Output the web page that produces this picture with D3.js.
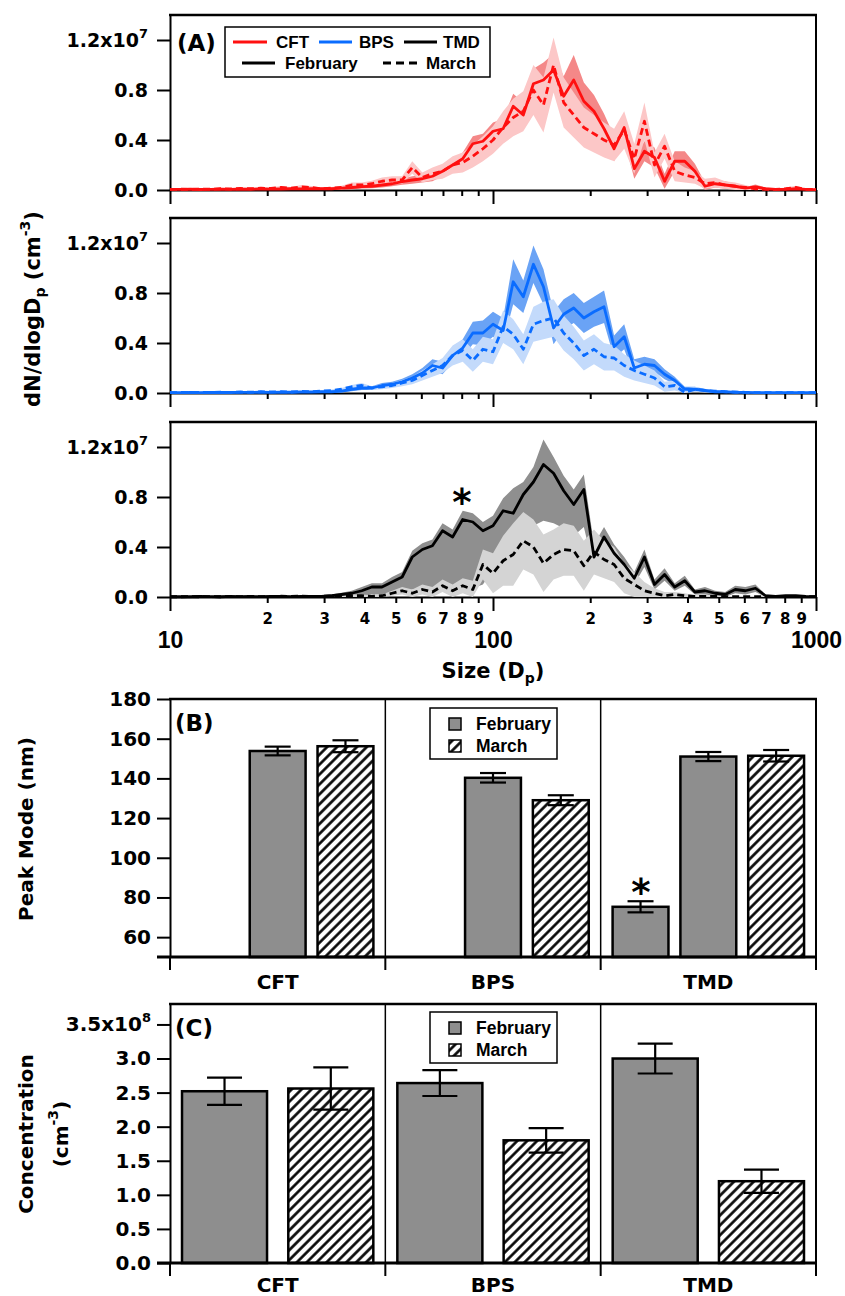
<!DOCTYPE html>
<html>
<head>
<meta charset="utf-8">
<script src="https://cdn.jsdelivr.net/npm/d3@7"></script>
<style>
  body { margin: 0; background: #fff; }
  svg { display: block; }
</style>
</head>
<body>
<script>
// ---------- data ----------
// particle size bins (nm)
const diam = [10.0, 10.75, 11.55, 12.41, 13.34, 14.33, 15.40, 16.55, 17.78, 19.11, 20.54, 22.07, 23.71, 25.48, 27.38,
  29.43, 31.62, 33.98, 36.52, 39.24, 42.17, 45.32, 48.70, 52.33, 56.23, 60.43, 64.94, 69.78, 74.99, 80.58,
  86.60, 93.06, 100.0, 107.5, 115.5, 124.1, 133.4, 143.3, 154.0, 165.5, 177.8, 191.1, 205.4, 220.7, 237.1,
  254.8, 273.8, 294.3, 316.2, 339.8, 365.2, 392.4, 421.7, 453.2, 487.0,
  523.3, 562.3, 604.3, 649.4, 697.8, 749.9, 805.8, 866.0, 930.6, 1000];

// dN/dlogDp in units of 10^6 cm-3
const cftFeb = [0.05, 0.05, 0.06, 0.04, 0.05, 0.06, 0.05, 0.07, 0.06, 0.08, 0.07, 0.08, 0.10, 0.09, 0.10,
  0.10, 0.10, 0.15, 0.20, 0.27, 0.30, 0.40, 0.50, 0.67, 0.80, 0.90, 1.10, 1.50, 2.00, 2.50,
  3.70, 3.90, 4.70, 4.90, 6.70, 6.00, 8.50, 8.80, 9.60, 7.50, 8.80, 7.10, 6.30, 4.90, 3.30,
  5.00, 1.70, 3.10, 2.60, 0.70, 2.30, 2.30, 1.50, 0.30, 0.50,
  0.40, 0.30, 0.15, 0.25, 0.10, 0.05, 0.05, 0.10, 0.05, 0.03];
const cftFebErr = [0.04, 0.04, 0.04, 0.04, 0.04, 0.05, 0.05, 0.05, 0.05, 0.05, 0.05, 0.05, 0.06, 0.06, 0.06,
  0.10, 0.10, 0.10, 0.15, 0.15, 0.15, 0.20, 0.20, 0.25, 0.30, 0.30, 0.40, 0.40, 0.50, 0.50,
  0.60, 0.60, 0.70, 0.80, 1.00, 1.00, 1.20, 1.40, 1.30, 1.60, 2.00, 1.50, 1.30, 1.20, 1.00,
  1.00, 0.80, 0.80, 0.80, 0.60, 0.80, 0.80, 0.60, 0.30, 0.30,
  0.30, 0.20, 0.10, 0.20, 0.10, 0.05, 0.05, 0.10, 0.05, 0.05];
const cftMar = [0.05, 0.06, 0.05, 0.08, 0.06, 0.10, 0.08, 0.12, 0.10, 0.15, 0.12, 0.20, 0.15, 0.25, 0.20,
  0.10, 0.15, 0.20, 0.40, 0.40, 0.50, 0.70, 0.80, 0.80, 1.80, 1.00, 1.30, 1.50, 2.00, 2.20,
  2.70, 3.30, 4.00, 5.00, 5.80, 6.30, 8.00, 6.80, 10.0, 7.00, 6.00, 5.00, 4.50, 4.00, 3.60,
  4.80, 2.50, 5.50, 2.00, 3.50, 1.50, 1.20, 1.00, 0.50, 0.60,
  0.40, 0.30, 0.20, 0.10, 0.05, 0.05, 0.10, 0.20, 0.05, 0.05];
const cftMarErr = [0.05, 0.05, 0.05, 0.08, 0.05, 0.08, 0.08, 0.10, 0.08, 0.10, 0.10, 0.12, 0.10, 0.15, 0.12,
  0.10, 0.10, 0.15, 0.20, 0.20, 0.25, 0.30, 0.30, 0.30, 0.50, 0.40, 0.50, 0.60, 0.70, 0.80,
  0.90, 1.00, 1.10, 1.30, 1.50, 1.60, 2.00, 2.20, 2.20, 2.00, 1.80, 1.60, 1.50, 1.40, 1.30,
  1.50, 1.20, 1.50, 1.00, 1.00, 0.80, 0.60, 0.50, 0.40, 0.40,
  0.30, 0.30, 0.20, 0.10, 0.05, 0.05, 0.10, 0.15, 0.05, 0.05];

const bpsFeb = [0.03, 0.03, 0.04, 0.03, 0.04, 0.05, 0.04, 0.05, 0.05, 0.06, 0.05, 0.07, 0.06, 0.08, 0.08,
  0.10, 0.10, 0.15, 0.30, 0.40, 0.40, 0.60, 0.70, 0.90, 1.20, 1.60, 2.20, 2.00, 3.00, 3.60,
  4.80, 4.80, 5.50, 5.00, 8.90, 7.70, 10.3, 8.50, 5.20, 6.30, 6.80, 6.00, 6.50, 6.90, 3.70,
  4.50, 2.00, 2.30, 2.20, 1.50, 1.00, 0.30, 0.30, 0.20, 0.10,
  0.10, 0.05, 0.05, 0.03, 0.03, 0.03, 0.03, 0.03, 0.03, 0.03];
const bpsFebErr = [0.03, 0.03, 0.03, 0.03, 0.03, 0.03, 0.03, 0.03, 0.03, 0.03, 0.03, 0.03, 0.03, 0.03, 0.03,
  0.05, 0.05, 0.10, 0.15, 0.15, 0.15, 0.20, 0.20, 0.25, 0.30, 0.40, 0.50, 0.50, 0.60, 0.70,
  0.90, 1.00, 1.00, 1.00, 1.80, 1.30, 1.50, 1.40, 1.30, 1.20, 1.20, 1.20, 1.20, 1.30, 0.90,
  1.00, 0.70, 0.60, 0.50, 0.40, 0.30, 0.20, 0.20, 0.10, 0.10,
  0.05, 0.05, 0.05, 0.05, 0.05, 0.05, 0.05, 0.05, 0.05, 0.05];
const bpsMar = [0.03, 0.04, 0.03, 0.05, 0.04, 0.06, 0.05, 0.08, 0.06, 0.10, 0.08, 0.10, 0.08, 0.12, 0.10,
  0.15, 0.20, 0.30, 0.50, 0.60, 0.40, 0.50, 0.60, 0.80, 1.00, 1.40, 1.80, 2.20, 3.00, 3.40,
  2.60, 3.50, 3.30, 5.30, 4.70, 3.50, 5.50, 5.80, 6.00, 4.80, 4.00, 3.00, 3.50, 2.90, 2.80,
  2.20, 1.80, 1.50, 1.20, 0.50, 0.60, 0.05, 0.30, 0.20, 0.15,
  0.10, 0.08, 0.05, 0.03, 0.03, 0.03, 0.03, 0.03, 0.03, 0.03];
const bpsMarErr = [0.03, 0.03, 0.03, 0.03, 0.03, 0.03, 0.03, 0.03, 0.03, 0.03, 0.03, 0.03, 0.03, 0.03, 0.03,
  0.05, 0.08, 0.10, 0.15, 0.20, 0.15, 0.20, 0.20, 0.25, 0.30, 0.40, 0.50, 0.60, 0.80, 0.90,
  0.90, 1.00, 1.00, 1.30, 1.20, 1.20, 1.40, 1.50, 1.50, 1.40, 1.30, 1.20, 1.20, 1.10, 1.00,
  0.90, 0.80, 0.70, 0.60, 0.40, 0.40, 0.30, 0.20, 0.15, 0.10,
  0.05, 0.05, 0.05, 0.05, 0.05, 0.05, 0.05, 0.05, 0.05, 0.05];

const tmdFeb = [0.02, 0.03, 0.02, 0.04, 0.03, 0.02, 0.05, 0.03, 0.04, 0.03, 0.05, 0.04, 0.03, 0.05, 0.05,
  0.05, 0.10, 0.20, 0.30, 0.50, 0.80, 0.80, 1.20, 1.60, 3.20, 3.80, 4.10, 5.30, 4.80, 6.20,
  6.00, 5.30, 5.70, 6.90, 6.70, 8.20, 9.20, 10.6, 9.90, 8.50, 7.40, 8.60, 3.20, 4.80, 3.50,
  2.60, 1.50, 3.20, 1.00, 1.80, 0.80, 1.30, 0.40, 0.50, 0.30,
  0.20, 0.60, 0.50, 0.70, 0.10, 0.05, 0.10, 0.10, 0.05, 0.03];
const tmdFebErrHi = [0.03, 0.03, 0.03, 0.03, 0.03, 0.03, 0.03, 0.03, 0.03, 0.03, 0.03, 0.03, 0.03, 0.03, 0.03,
  0.05, 0.10, 0.15, 0.20, 0.30, 0.30, 0.30, 0.40, 0.40, 0.50, 0.50, 0.50, 0.60, 0.60, 0.70,
  0.70, 0.70, 0.80, 1.00, 2.00, 1.00, 1.20, 2.00, 1.30, 1.20, 1.20, 1.20, 1.00, 0.80, 0.70,
  0.60, 0.50, 0.60, 0.40, 0.50, 0.30, 0.40, 0.20, 0.30, 0.20,
  0.20, 0.30, 0.30, 0.30, 0.10, 0.05, 0.05, 0.05, 0.05, 0.03];
const tmdFebErrLo = [0.03, 0.03, 0.03, 0.03, 0.03, 0.03, 0.03, 0.03, 0.03, 0.03, 0.03, 0.03, 0.03, 0.03, 0.03,
  0.05, 0.10, 0.15, 0.20, 0.40, 0.60, 0.60, 1.00, 1.30, 2.60, 3.10, 3.40, 4.50, 4.10, 5.40,
  5.30, 4.30, 3.50, 3.00, 2.30, 3.00, 3.50, 4.50, 4.00, 3.00, 2.50, 3.00, 1.00, 1.50, 1.00,
  0.80, 0.50, 0.80, 0.40, 0.50, 0.30, 0.40, 0.20, 0.30, 0.20,
  0.20, 0.30, 0.30, 0.30, 0.10, 0.05, 0.05, 0.05, 0.05, 0.03];
const tmdMar = [0.02, 0.02, 0.03, 0.02, 0.03, 0.02, 0.04, 0.03, 0.05, 0.03, 0.04, 0.06, 0.05, 0.08, 0.05,
  0.05, 0.10, 0.10, 0.10, 0.10, 0.05, 0.10, 0.30, 0.50, 0.30, 0.60, 0.40, 0.90, 0.50, 0.90,
  0.60, 2.60, 1.90, 2.90, 3.40, 4.50, 4.00, 2.70, 3.40, 3.80, 3.70, 2.50, 3.60, 3.00, 2.60,
  1.50, 1.00, 0.50, 0.30, 0.10, 0.20, 0.10, 0.05, 0.05, 0.05,
  0.03, 0.03, 0.03, 0.03, 0.03, 0.03, 0.03, 0.03, 0.03, 0.03];
const tmdMarErr = [0.03, 0.03, 0.03, 0.03, 0.03, 0.03, 0.03, 0.03, 0.03, 0.03, 0.03, 0.03, 0.03, 0.03, 0.03,
  0.05, 0.05, 0.10, 0.10, 0.10, 0.10, 0.10, 0.20, 0.30, 0.30, 0.40, 0.40, 0.50, 0.50, 0.60,
  0.70, 1.20, 1.60, 2.00, 2.50, 2.30, 2.20, 2.30, 2.00, 2.10, 2.00, 2.00, 1.80, 1.50, 1.40,
  1.20, 1.00, 0.70, 0.40, 0.30, 0.20, 0.20, 0.10, 0.10, 0.10,
  0.05, 0.05, 0.05, 0.05, 0.05, 0.05, 0.05, 0.05, 0.05, 0.05];

const yTicksA = [0, 4, 8, 12];
const xTicksA = [10, 20, 30, 40, 50, 60, 70, 80, 90, 100, 200, 300, 400, 500, 600, 700, 800, 900, 1000];
const xMajors = [10, 100, 1000];

// panels B and C
const sites = ['CFT', 'BPS', 'TMD'];
const peakFeb = [153.8, 140.3, 151.0];
const peakFebErr = [2.2, 2.4, 2.3];
const peakMar = [156.2, 129.0, 151.4];
const peakMarErr = [3.0, 2.5, 2.9];
const peakFebSmall = [null, null, 75.3];      // second (smaller) February mode
const peakFebSmallErr = [null, null, 2.8];
const peakTicks = [60, 80, 100, 120, 140, 160, 180];

const concFeb = [2.52e8, 2.64e8, 3.00e8];
const concFebErr = [0.20e8, 0.19e8, 0.22e8];
const concMar = [2.56e8, 1.80e8, 1.20e8];
const concMarErr = [0.31e8, 0.18e8, 0.17e8];
const concTicks = [0, 0.5e8, 1.0e8, 1.5e8, 2.0e8, 2.5e8, 3.0e8, 3.5e8];

// ---------- canvas ----------
const arial = '"Liberation Sans", Arial, sans-serif';
const svg = d3.select('body').append('svg')
  .attr('width', 845)
  .attr('height', 1296)
  .attr('font-family', '"DejaVu Sans", sans-serif')
  .attr('font-weight', 'bold');

const left = 170, right = 816;
const x = d3.scaleLog().domain([10, 1000]).range([left, right]);

const defs = svg.append('defs');
const hatch = defs.append('pattern')
  .attr('id', 'hatch')
  .attr('patternUnits', 'userSpaceOnUse')
  .attr('width', 7).attr('height', 7)
  .attr('patternTransform', 'rotate(45)');
hatch.append('rect').attr('width', 7).attr('height', 7).attr('fill', '#fff');
hatch.append('line').attr('x1', 3.5).attr('x2', 3.5).attr('y1', 0).attr('y2', 7)
  .attr('stroke', '#000').attr('stroke-width', 2.6);

function styleAxis(g, size) {
  g.attr('font-family', null).attr('font-size', size);
  g.selectAll('path, line').attr('stroke', '#000').attr('stroke-width', 2);
  g.selectAll('text').attr('fill', '#000');
}

// ---------- panel A: size distributions ----------
const panelsA = [
  { top: 15, zero: 190, line: '#ff1010', febFill: '#f48888', marFill: '#fcc7c7',
    feb: cftFeb, febHi: cftFebErr, febLo: cftFebErr, mar: cftMar, marErr: cftMarErr },
  { top: 218, zero: 393, line: '#0a6cff', febFill: '#6aa3f5', marFill: '#c3dafb',
    feb: bpsFeb, febHi: bpsFebErr, febLo: bpsFebErr, mar: bpsMar, marErr: bpsMarErr },
  { top: 422, zero: 597, line: '#000', febFill: '#8f8f8f', marFill: '#d4d4d4',
    feb: tmdFeb, febHi: tmdFebErrHi, febLo: tmdFebErrLo, mar: tmdMar, marErr: tmdMarErr }
];

panelsA.forEach((p, idx) => {
  const y = d3.scaleLinear().domain([0, 14]).range([p.zero, p.top]);
  const g = svg.append('g');

  // y axis
  const gy = g.append('g').attr('transform', `translate(${left},0)`)
    .call(d3.axisLeft(y).tickValues(yTicksA).tickSize(13).tickPadding(9).tickSizeOuter(0)
      .tickFormat(d => d === 12 ? '1.2x10' : (d / 10).toFixed(1)));
  styleAxis(gy, 19);
  gy.selectAll('.tick text').filter(d => d === 12)
    .append('tspan').attr('dy', -9).attr('font-size', 13).text('7');

  // x axis
  const gx = g.append('g').attr('transform', `translate(0,${p.zero})`)
    .call(d3.axisBottom(x).tickValues(xTicksA).tickSize(6).tickSizeOuter(0).tickPadding(10)
      .tickFormat(d => idx < 2 ? '' : (xMajors.includes(d) ? d : d / 10 ** Math.floor(Math.log10(d) + 1e-9))));
  styleAxis(gx, 15);
  gx.selectAll('.tick line').filter(d => xMajors.includes(d)).attr('y2', 14);
  gx.selectAll('.tick text').filter(d => xMajors.includes(d))
    .attr('font-family', arial)
    .attr('font-size', 23).attr('y', 51).attr('dy', 0);

  // frame
  g.append('line').attr('x1', left - 1).attr('x2', right + 1).attr('y1', p.top).attr('y2', p.top)
    .attr('stroke', '#000').attr('stroke-width', 2.5);
  g.append('line').attr('x1', right).attr('x2', right).attr('y1', p.top).attr('y2', p.zero)
    .attr('stroke', '#000').attr('stroke-width', 2);

  // data
  const clipId = 'clipA' + idx;
  defs.append('clipPath').attr('id', clipId).append('rect')
    .attr('x', left).attr('y', p.top).attr('width', right - left).attr('height', p.zero - p.top + 2);
  const plot = g.append('g').attr('clip-path', `url(#${clipId})`);

  const band = (mean, lo, hi) => d3.area()
    .x((d, i) => x(diam[i]))
    .y0((d, i) => y(Math.max(0, mean[i] - lo[i])))
    .y1((d, i) => y(mean[i] + hi[i]));
  const line = mean => d3.line().x((d, i) => x(diam[i])).y((d, i) => y(mean[i]));

  plot.append('path').attr('d', band(p.feb, p.febLo, p.febHi)(diam)).attr('fill', p.febFill);
  plot.append('path').attr('d', band(p.mar, p.marErr, p.marErr)(diam)).attr('fill', p.marFill);
  plot.append('path').attr('d', line(p.mar)(diam)).attr('fill', 'none')
    .attr('stroke', p.line).attr('stroke-width', 2.8).attr('stroke-dasharray', '7,4')
    .attr('stroke-linejoin', 'round');
  plot.append('path').attr('d', line(p.feb)(diam)).attr('fill', 'none')
    .attr('stroke', p.line).attr('stroke-width', 2.8).attr('stroke-linejoin', 'round');
});

// star on TMD February shoulder
svg.append('text').attr('x', 462).attr('y', 515).attr('text-anchor', 'middle')
  .attr('font-size', 37).text('*');

// legend A
const legA = svg.append('g').attr('font-family', arial).attr('font-size', 17);
legA.append('rect').attr('x', 225).attr('y', 27).attr('width', 265).attr('height', 50)
  .attr('fill', '#fff').attr('stroke', '#000').attr('stroke-width', 1.5);
const legItems = [
  { x1: 233, x2: 267, y: 42, color: '#ff1010', dash: null, label: 'CFT', tx: 276 },
  { x1: 319, x2: 352, y: 42, color: '#0a6cff', dash: null, label: 'BPS', tx: 359 },
  { x1: 404, x2: 437, y: 42, color: '#000', dash: null, label: 'TMD', tx: 443 },
  { x1: 242, x2: 275, y: 63, color: '#000', dash: null, label: 'February', tx: 285 },
  { x1: 383, x2: 417, y: 63, color: '#000', dash: '8,5', label: 'March', tx: 426 }
];
legItems.forEach(d => {
  legA.append('line').attr('x1', d.x1).attr('x2', d.x2).attr('y1', d.y).attr('y2', d.y)
    .attr('stroke', d.color).attr('stroke-width', 3).attr('stroke-dasharray', d.dash);
  legA.append('text').attr('x', d.tx).attr('y', d.y).attr('dy', '0.36em').text(d.label);
});

svg.append('text').attr('x', 177).attr('y', 51).attr('font-size', 23).text('(A)');

// axis titles for A
const tA = svg.append('text').attr('transform', 'translate(40,309) rotate(-90)')
  .attr('text-anchor', 'middle').attr('font-size', 21);
tA.append('tspan').text('dN/dlogD');
tA.append('tspan').attr('font-size', 14).attr('dy', 5).text('p');
tA.append('tspan').attr('dy', -5).text(' (cm');
tA.append('tspan').attr('font-size', 14).attr('dy', -10).text('-3');
tA.append('tspan').attr('dy', 10).text(')');

const tX = svg.append('text').attr('x', 493).attr('y', 678).attr('text-anchor', 'middle')
  .attr('font-size', 21);
tX.append('tspan').text('Size (D');
tX.append('tspan').attr('font-size', 14).attr('dy', 5).text('p');
tX.append('tspan').attr('dy', -5).text(')');

// ---------- panels B and C: bars ----------
const groups = d3.scaleBand().domain(sites).range([left, right]);

function drawBars(cfg) {
  const y = d3.scaleLinear().domain(cfg.domain).range([cfg.bottom, cfg.top]);
  const slot = d3.scaleBand().domain(cfg.slots).range([0, groups.bandwidth()])
    .paddingInner(cfg.pad[0]).paddingOuter(cfg.pad[1]);
  const g = svg.append('g');

  // dividers and frame
  [groups('BPS'), groups('TMD')].forEach(xx => {
    g.append('line').attr('x1', xx).attr('x2', xx).attr('y1', cfg.top).attr('y2', cfg.bottom)
      .attr('stroke', '#000').attr('stroke-width', 1.5);
  });
  g.append('line').attr('x1', left - 1).attr('x2', right + 1).attr('y1', cfg.top).attr('y2', cfg.top)
    .attr('stroke', '#000').attr('stroke-width', 2.5);
  g.append('line').attr('x1', right).attr('x2', right).attr('y1', cfg.top).attr('y2', cfg.bottom)
    .attr('stroke', '#000').attr('stroke-width', 2);

  // y axis
  const gy = g.append('g').attr('transform', `translate(${left},0)`)
    .call(d3.axisLeft(y).tickValues(cfg.ticks).tickSize(13).tickPadding(6).tickSizeOuter(0)
      .tickFormat(cfg.format));
  styleAxis(gy, 20);
  if (cfg.sup) {
    gy.selectAll('.tick text').filter(d => d === cfg.sup.at)
      .append('tspan').attr('dy', -9).attr('font-size', 13).text(cfg.sup.text);
  }

  // bars
  g.selectAll('rect.bar')
    .data(cfg.bars)
    .join('rect')
    .attr('class', 'bar')
    .attr('x', d => groups(d.site) + slot(d.slot))
    .attr('y', d => y(d.value))
    .attr('width', slot.bandwidth())
    .attr('height', d => cfg.bottom - y(d.value))
    .attr('fill', d => d.month === 'March' ? 'url(#hatch)' : '#8e8e8e')
    .attr('stroke', '#000')
    .attr('stroke-width', 2.5);

  // error bars
  const eb = g.selectAll('g.err').data(cfg.bars).join('g').attr('class', 'err')
    .attr('transform', d => `translate(${groups(d.site) + slot(d.slot) + slot.bandwidth() / 2},0)`)
    .attr('stroke', '#000').attr('stroke-width', 2.2);
  eb.append('line').attr('y1', d => y(d.value - d.err)).attr('y2', d => y(d.value + d.err));
  eb.append('line').attr('x1', -cfg.cap / 2).attr('x2', cfg.cap / 2)
    .attr('y1', d => y(d.value + d.err)).attr('y2', d => y(d.value + d.err));
  eb.append('line').attr('x1', -cfg.cap / 2).attr('x2', cfg.cap / 2)
    .attr('y1', d => y(d.value - d.err)).attr('y2', d => y(d.value - d.err));

  // x axis
  g.append('line').attr('x1', 157).attr('x2', right + 1).attr('y1', cfg.bottom).attr('y2', cfg.bottom)
    .attr('stroke', '#000').attr('stroke-width', 3);
  [left, groups('BPS'), groups('TMD'), right].forEach(xx => {
    g.append('line').attr('x1', xx).attr('x2', xx).attr('y1', cfg.bottom).attr('y2', cfg.bottom + 13)
      .attr('stroke', '#000').attr('stroke-width', 2);
  });
  g.selectAll('text.cat').data(sites).join('text').attr('class', 'cat')
    .attr('x', d => groups(d) + groups.bandwidth() / 2)
    .attr('y', cfg.bottom + cfg.catDy)
    .attr('text-anchor', 'middle').attr('font-size', 20)
    .text(d => d);

  // legend
  const leg = g.append('g').attr('font-family', arial).attr('font-size', 17.5);
  leg.append('rect').attr('x', 430).attr('y', cfg.legY).attr('width', 127).attr('height', 51)
    .attr('fill', '#fff').attr('stroke', '#000').attr('stroke-width', 1.5);
  ['February', 'March'].forEach((m, i) => {
    const yy = cfg.legY + 16 + i * 22;
    leg.append('rect').attr('x', 449).attr('y', yy - 6).attr('width', 12).attr('height', 12)
      .attr('fill', m === 'March' ? 'url(#hatch)' : '#8e8e8e')
      .attr('stroke', '#000').attr('stroke-width', 1.5);
    leg.append('text').attr('x', 476).attr('y', yy).attr('dy', '0.36em').text(m);
  });

  g.append('text').attr('x', 175).attr('y', cfg.top + 32).attr('font-size', 23).text(cfg.label);
  return y;
}

// panel B
const barsB = [];
sites.forEach((s, i) => {
  if (peakFebSmall[i] !== null) barsB.push({ site: s, slot: 'small', month: 'February', value: peakFebSmall[i], err: peakFebSmallErr[i] });
  barsB.push({ site: s, slot: 'feb', month: 'February', value: peakFeb[i], err: peakFebErr[i] });
  barsB.push({ site: s, slot: 'mar', month: 'March', value: peakMar[i], err: peakMarErr[i] });
});
const yB = drawBars({
  top: 699, bottom: 957, domain: [50, 180], ticks: peakTicks, format: d3.format('d'),
  slots: ['small', 'feb', 'mar'], pad: [0.176, 0.176], cap: 26,
  bars: barsB, legY: 708, label: '(B)', catDy: 32
});
svg.append('text').attr('x', 641).attr('y', yB(peakFebSmall[2] + peakFebSmallErr[2]) + 4)
  .attr('text-anchor', 'middle').attr('font-size', 37).text('*');

svg.append('text').attr('transform', 'translate(33,829) rotate(-90)')
  .attr('text-anchor', 'middle').attr('font-size', 20).text('Peak Mode (nm)');

// panel C
const barsC = [];
sites.forEach((s, i) => {
  barsC.push({ site: s, slot: 'feb', month: 'February', value: concFeb[i], err: concFebErr[i] });
  barsC.push({ site: s, slot: 'mar', month: 'March', value: concMar[i], err: concMarErr[i] });
});
drawBars({
  top: 1004, bottom: 1263, domain: [0, 3.8e8], ticks: concTicks,
  format: d => d === 3.5e8 ? '3.5x10' : (d / 1e8).toFixed(1),
  sup: { at: 3.5e8, text: '8' },
  slots: ['feb', 'mar'], pad: [0.2, 0.113], cap: 35,
  bars: barsC, legY: 1012, label: '(C)', catDy: 29
});

svg.append('text').attr('transform', 'translate(33,1134) rotate(-90)')
  .attr('text-anchor', 'middle').attr('font-size', 20).text('Concentration');
const tC = svg.append('text').attr('transform', 'translate(68,1134) rotate(-90)')
  .attr('text-anchor', 'middle').attr('font-size', 20);
tC.append('tspan').text('(cm');
tC.append('tspan').attr('font-size', 14).attr('dy', -10).text('-3');
tC.append('tspan').attr('dy', 10).text(')');
</script>
</body>
</html>
